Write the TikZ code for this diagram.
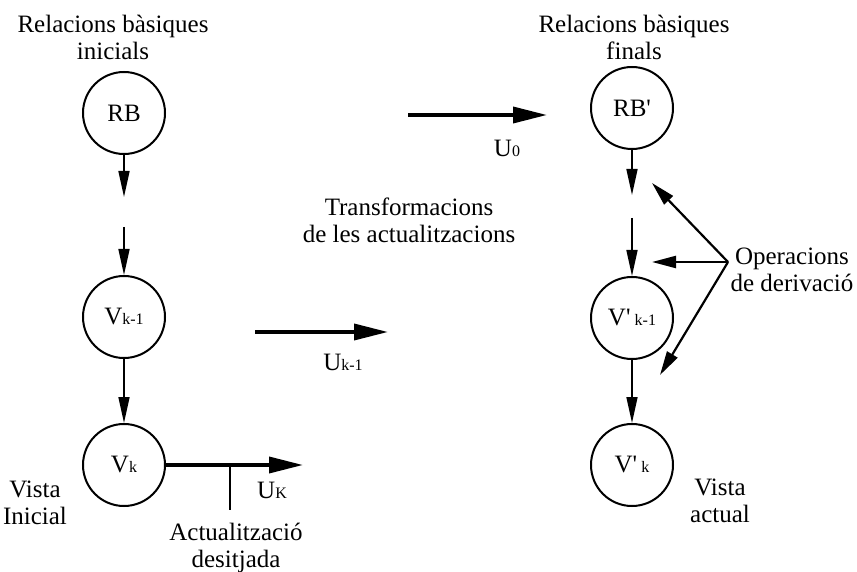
\documentclass[tikz,border=0pt]{standalone}
\usepackage{fontspec}
\setmainfont{Liberation Serif}
\usetikzlibrary{arrows.meta}
\begin{document}
\begin{tikzpicture}[x=0.5pt,y=-0.5pt,
  every node/.style={font=\fontsize{12.5}{13.5}\selectfont},
  state/.style={circle,draw,line width=1pt,minimum size=41pt,inner sep=0pt},
  lbl/.style={align=center,inner sep=0pt},
  flow/.style={line width=0.8pt,-{Triangle[length=13pt,width=5.5pt]}},
  upd/.style={line width=1.8pt,-{Triangle[length=17pt,width=8pt]}},
  deriv/.style={line width=1.1pt,-{Triangle[length=12pt,width=6pt]}}]
\useasboundingbox (0,0) rectangle (857,572);

% left column: initial base relations down to the initial view
\node[state] (rb)  at (124,113) {RB};
\node[state] (vk1) at (124,317) {V{\footnotesize k-1}};
\node[state] (vk)  at (124,465) {V{\footnotesize k}};
\coordinate (lgapA) at (124,197);
\coordinate (lgapB) at (124,227);
\draw[flow] (rb) -- (lgapA);
\draw[flow] (lgapB) -- (vk1);
\draw[flow] (vk1) -- (vk);

\node[lbl] (rbtxt) at (113,37) {Relacions bàsiques\\inicials};
\node[lbl] (vinit) at (35,503) {Vista\\Inicial};

% requested update on the view
\coordinate (ukend) at (303,465);
\coordinate (tick) at (230,465);
\node[lbl] (uk) at (272,490) {U{\footnotesize K}};
\node[lbl] (act) at (236,548) {Actualització\\desitjada};
\draw[upd] (vk) -- (ukend);
\draw[line width=1pt] (tick) -- ++(0,45);

% right column: final base relations down to the current view
\node[state] (rbp)  at (632,108) {RB\textquotesingle};
\node[state] (vpk1) at (632,318) {V\textquotesingle\,{\footnotesize k-1}};
\node[state] (vpk)  at (632,465) {V\textquotesingle\,{\footnotesize k}};
\coordinate (rgapA) at (632,195);
\coordinate (rgapB) at (632,218);
\draw[flow] (rbp) -- (rgapA);
\draw[flow] (rgapB) -- (vpk1);
\draw[flow] (vpk1) -- (vpk);

\node[lbl] (rbptxt) at (634,37) {Relacions bàsiques\\finals};
\node[lbl] (vact) at (720,501) {Vista\\actual};

% transformed updates
\coordinate (u0a) at (408,115);
\coordinate (u0b) at (547,115);
\draw[upd] (u0a) -- (u0b);
\node[lbl] (u0) at (507,148) {U{\footnotesize 0}};

\coordinate (uka) at (255,332);
\coordinate (ukb) at (388,332);
\draw[upd] (uka) -- (ukb);
\node[lbl] (uk1) at (343,362) {U{\footnotesize k-1}};

\node[lbl] (trans) at (409,220) {Transformacions\\de les actualitzacions};

% derivation operations
\node[lbl] (ops) at (792,270) {Operacions\\de derivació};
\coordinate (opsx) at (728,262);
\coordinate (d1) at (652,183);
\coordinate (d2) at (652,262);
\coordinate (d3) at (660,375);
\draw[deriv] (opsx) -- (d1);
\draw[deriv] (opsx) -- (d2);
\draw[deriv] (opsx) -- (d3);
\end{tikzpicture}
\end{document}
